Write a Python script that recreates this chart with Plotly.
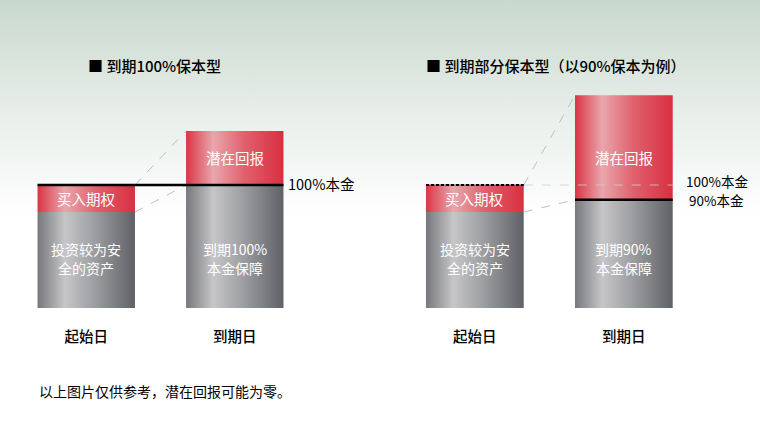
import plotly.graph_objects as go

# data
days = ["起始日", "到期日"]
full_safe = [78, 100]        # 灰色部分
full_upside = [22, 44]       # 红色部分
part_safe = [78, 88]
part_upside = [22, 85]
full_gray_text = [["投资较为安", "全的资产"], ["到期100%", "本金保障"]]
part_gray_text = [["投资较为安", "全的资产"], ["到期90%", "本金保障"]]
red_text = ["买入期权", "潜在回报"]
titles = ["■ 到期100%保本型", "■ 到期部分保本型（以90%保本为例）"]
principal = 100
note = "以上图片仅供参考，潜在回报可能为零。"

FONT = "Noto Sans CJK SC"
W = 0.656
GRAY = [[0, "#77787c"], [0.28, "#c6c6c8"], [0.55, "#a2a3a6"], [1, "#606166"]]
RED = [[0, "#da3545"], [0.28, "#e9a6ac"], [0.6, "#e0606d"], [1, "#d92f3f"]]
DASH = "rgba(185,185,185,0.9)"

fig = go.Figure()

# background gradient
fig.add_trace(go.Scatter(x=[0, 1, 1, 0, 0], y=[0, 0, 1, 1, 0], fill="toself", mode="none",
                         fillgradient=dict(type="vertical",
                                           colorscale=[[0, "#ffffff"], [0.5, "#ffffff"], [0.75, "#e6ede8"], [1, "#c8d8ce"]]),
                         hoverinfo="skip", showlegend=False, xaxis="x", yaxis="y"))


def bar(xa, ya, i, base, h, scale):
    x0, x1 = i - W / 2, i + W / 2
    fig.add_trace(go.Scatter(x=[x0, x1, x1, x0, x0], y=[base, base, base + h, base + h, base],
                             fill="toself", mode="none",
                             fillgradient=dict(type="horizontal", colorscale=scale),
                             hoverinfo="skip", showlegend=False, xaxis=xa, yaxis=ya))


def seg(xa, ya, xs, ys, color, width, dash="solid"):
    fig.add_trace(go.Scatter(x=xs, y=ys, mode="lines", line=dict(color=color, width=width, dash=dash),
                             hoverinfo="skip", showlegend=False, xaxis=xa, yaxis=ya))


annotations = []


def txt(xref, yref, x, y, s, size=14.5, color="white", **kw):
    kw.setdefault("yanchor", "middle")
    annotations.append(dict(xref=xref, yref=yref, x=x, y=y, text=s, showarrow=False,
                            font=dict(family=FONT, size=size, color=color), **kw))


charts = [("x2", "y2", full_safe, full_upside, full_gray_text),
          ("x3", "y3", part_safe, part_upside, part_gray_text)]

for xa, ya, safe, upside, gtext in charts:
    for i in range(2):
        bar(xa, ya, i, 0, safe[i], GRAY)
        bar(xa, ya, i, safe[i], upside[i], RED)
        txt(xa, ya, i, 40, gtext[i][0], size=14, yshift=9.4, borderpad=0)
        txt(xa, ya, i, 40, gtext[i][1], size=14, yshift=-9.4, borderpad=0)
    txt(xa, ya, 0, safe[0] + upside[0] / 2, red_text[0])
    txt(xa, ya, 1, 122, red_text[1])
    # connectors
    seg(xa, ya, [W / 2, 1 - W / 2], [safe[0] + upside[0], safe[1] + upside[1]], DASH, 1, "dash")
    seg(xa, ya, [W / 2, 1 - W / 2], [safe[0], safe[1]], DASH, 1, "dash")

# left: 100% principal line
seg("x2", "y2", [-W / 2, 1 + W / 2], [principal, principal], "black", 2.5)
txt("x2", "y2", 1 + W / 2, principal, "100%本金", color="black", xanchor="left", xshift=3, yshift=2)

# right: 100% dashed reference, 90% line
seg("x3", "y3", [W / 2, 1 + W / 2], [principal, principal], "rgba(205,205,205,0.8)", 1, "dash")
seg("x3", "y3", [-W / 2, W / 2], [principal, principal], "#555555", 1)
seg("x3", "y3", [-W / 2, W / 2], [principal, principal], "black", 2, "3px,2px")
seg("x3", "y3", [1 - W / 2, 1 + W / 2], [part_safe[1], part_safe[1]], "black", 2.5)
txt("x3", "y3", 1 + W / 2, principal, "100%本金", size=13.5, color="black", xanchor="center", xshift=44, yshift=4)
txt("x3", "y3", 1 + W / 2, part_safe[1], "90%本金", size=13.5, color="black", xanchor="center", xshift=44, yshift=0)

# titles and note
txt("paper", "paper", 86 / 760, 1 - 66 / 428, titles[0], size=15, color="black", xanchor="left")
txt("paper", "paper", 424 / 760, 1 - 66 / 428, titles[1], size=15, color="black", xanchor="left")
txt("paper", "paper", 37 / 760, 1 - 391 / 428, note, size=14, color="black", xanchor="left")
for a in annotations[-3:-1]:
    a["font"]["weight"] = 500

yrange = [0, 308 / 1.23]
ydom = [1 - 308 / 428, 1]
xcommon = dict(tickvals=[0, 1], ticktext=days, showgrid=False, zeroline=False, showline=False,
               ticks="", ticklabelstandoff=18, fixedrange=True,
               tickfont=dict(family=FONT, size=14.5, color="black", weight=500))

fig.update_layout(
    width=760, height=428,
    margin=dict(l=0, r=0, t=0, b=0),
    paper_bgcolor="white", plot_bgcolor="rgba(0,0,0,0)",
    xaxis=dict(domain=[0, 1], range=[0, 1], visible=False, fixedrange=True),
    yaxis=dict(domain=[0, 1], range=[0, 1], visible=False, fixedrange=True),
    xaxis2=dict(domain=[0, 0.5], range=[-86.25 / 148.5, (380 - 86.25) / 148.5], anchor="y2", **xcommon),
    yaxis2=dict(domain=ydom, range=yrange, visible=False, anchor="x2", fixedrange=True),
    xaxis3=dict(domain=[0.5, 1], range=[(380 - 474.85) / 149, (760 - 474.85) / 149], anchor="y3", **xcommon),
    yaxis3=dict(domain=ydom, range=yrange, visible=False, anchor="x3", fixedrange=True),
    annotations=annotations,
    showlegend=False,
)

fig.write_html("out.html", config={"displayModeBar": False},
               post_script="document.body.style.margin='0';")
